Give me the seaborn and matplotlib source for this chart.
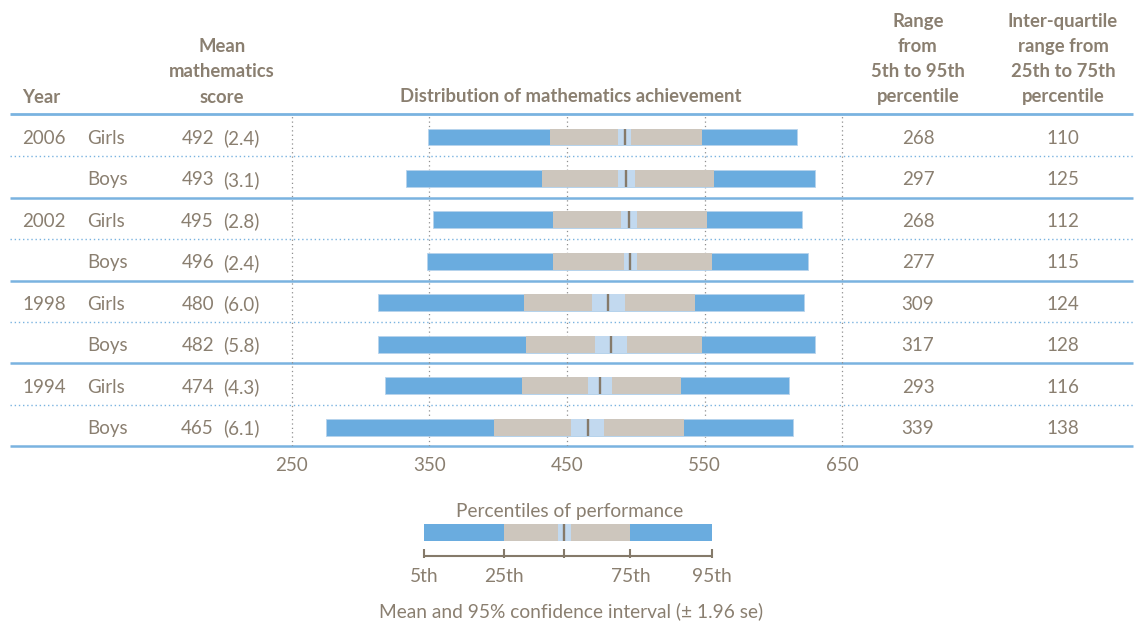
import numpy as np
import matplotlib
matplotlib.use("Agg")
import matplotlib.pyplot as plt
import seaborn as sns

# table data
years = ["2006", "2002", "1998", "1994"]
groups = ["Girls", "Boys"]
means = np.array([492, 493, 495, 496, 480, 482, 474, 465])
se = np.array([2.4, 3.1, 2.8, 2.4, 6.0, 5.8, 4.3, 6.1])
p5 = np.array([349, 333, 353, 348, 313, 313, 318, 275])
p25 = np.array([438, 432, 440, 440, 419, 420, 417, 397])
p75 = np.array([548, 557, 552, 555, 543, 548, 533, 535])
p95 = np.array([617, 630, 621, 625, 622, 630, 611, 614])
range_5_95 = [268, 297, 268, 277, 309, 317, 293, 339]
iqr_25_75 = [110, 125, 112, 115, 124, 128, 116, 138]
grid_ticks = [250, 350, 450, 550, 650]

# schematic key bar below the chart
key_pcts = [346, 404, 496, 555]          # 5th, 25th, 75th, 95th
key_mean = 448
key_ci = [443.5, 453]
key_labels = ["5th", "25th", "75th", "95th"]

BLUE = "#6aacdf"
BEIGE = "#cdc6bd"
LIGHT = "#c2d9ef"
MARK = "#857a6a"
TXT = "#8a7f70"
RULE = "#7ab3e0"

sns.set_theme(style="white")
plt.rcParams["font.family"] = ["Lato", "DejaVu Sans"]

W, H = 1136, 626
fig = plt.figure(figsize=(W / 100, H / 100), dpi=100)

# pixel-space layer for table text and rules
bg = fig.add_axes([0, 0, 1, 1])
bg.set_xlim(0, W)
bg.set_ylim(H, 0)
bg.axis("off")

# x scale of the distribution column
PX350, PPU = 429.3, 1.377
XMIN, XMAX = 240, 660
left_px = PX350 + (XMIN - 350) * PPU
width_px = (XMAX - XMIN) * PPU
TOP, BOT = 115, 446
ROW0, ROWH = 137, 41.43

ax = fig.add_axes([left_px / W, (H - BOT) / H, width_px / W, (BOT - TOP) / H])
ax.patch.set_alpha(0)
ax.set_xlim(XMIN, XMAX)
ax.set_ylim((BOT - ROW0) / ROWH, (TOP - ROW0) / ROWH)

y = np.arange(len(means))
bh = 0.41
ax.barh(y, p95 - p5, left=p5, height=bh, color=BLUE, edgecolor="#b7d3ec", linewidth=0.6, zorder=2)
ax.barh(y, p75 - p25, left=p25, height=bh, color=BEIGE, edgecolor="none", linewidth=0, zorder=3)
ci_lo = means - 1.96 * se
ax.barh(y, 2 * 1.96 * se, left=ci_lo, height=bh, color=LIGHT, edgecolor="none", linewidth=0, zorder=4)
ax.vlines(means, y - bh / 2, y + bh / 2, color=MARK, linewidth=1.7, zorder=5)

ax.set_xticks(grid_ticks)
ax.set_xticklabels([str(t) for t in grid_ticks])
ax.tick_params(axis="x", length=0, pad=8, labelsize=13.5, labelcolor=TXT)
ax.set_yticks([])
for s in ax.spines.values():
    s.set_visible(False)
ax.grid(axis="x", color="#8f8f8f", linestyle=(0, (1, 2.5)), linewidth=0.9)
ax.set_axisbelow(True)

# header
hdr = dict(color=TXT, fontsize=13.3, fontweight="bold", va="baseline")
bg.text(22, 103, "Year", ha="left", **hdr)
for i, line in enumerate(["Mean", "mathematics", "score"]):
    bg.text(222, 52 + 25.3 * i, line, ha="center", **hdr)
bg.text(571, 102, "Distribution of mathematics achievement", ha="center", **hdr)
for i, line in enumerate(["Range", "from", "5th to 95th", "percentile"]):
    bg.text(918, 27 + 25 * i, line, ha="center", **hdr)
for i, line in enumerate(["Inter-quartile", "range from", "25th to 75th", "percentile"]):
    bg.text(1063, 27 + 25 * i, line, ha="center", **hdr)

# rules
bg.hlines(114, 10, 1133, color=RULE, linewidth=2)
for k in range(len(means)):
    yy = ROW0 + ROWH * (k + 0.5) - 1.5
    if k % 2 == 1:
        bg.hlines(yy, 10, 1133, color=RULE, linewidth=1.8)
    else:
        bg.hlines(yy, 10, 1133, color=RULE, linewidth=1.0, linestyle=(0, (1, 2)))

# rows
body = dict(color=TXT, fontsize=13.5, va="center_baseline")
for k in range(len(means)):
    yy = ROW0 + ROWH * k
    if k % 2 == 0:
        bg.text(22, yy, years[k // 2], ha="left", **body)
    bg.text(87, yy, groups[k % 2], ha="left", **body)
    bg.text(214, yy, str(means[k]), ha="right", **body)
    bg.text(223, yy, f"({se[k]:.1f})", ha="left", **body)
    bg.text(918, yy, str(range_5_95[k]), ha="center", **body)
    bg.text(1063, yy, str(iqr_25_75[k]), ha="center", **body)

# key
bg.text(570, 517, "Percentiles of performance", ha="center", va="baseline", color=TXT, fontsize=13.8)
bg.text(571, 611, "Mean and 95% confidence interval (\u00b1 1.96 se)", ha="center", va="center",
        color=TXT, fontsize=13.8)

kx = fig.add_axes([left_px / W, (H - 562) / H, width_px / W, 44 / H])
kx.patch.set_alpha(0)
kx.set_xlim(XMIN, XMAX)
kx.set_ylim(562, 518)
kx.axis("off")
kx.barh([532.5], [key_pcts[3] - key_pcts[0]], left=key_pcts[0], height=17, color=BLUE, linewidth=0)
kx.barh([532.5], [key_pcts[2] - key_pcts[1]], left=key_pcts[1], height=17, color=BEIGE, linewidth=0)
kx.barh([532.5], [key_ci[1] - key_ci[0]], left=key_ci[0], height=17, color=LIGHT, linewidth=0)
kx.vlines(key_mean, 524, 541, color=MARK, linewidth=1.7)
kx.hlines(555.5, key_pcts[0], key_pcts[3], color=MARK, linewidth=1.5)
kx.vlines(key_pcts + [key_mean], 549, 558, color=MARK, linewidth=1.5)
for v, lab in zip(key_pcts, key_labels):
    kx.text(v, 577, lab, ha="center", va="center", color=TXT, fontsize=13.8, clip_on=False)

fig.savefig("out.png", dpi=100)
